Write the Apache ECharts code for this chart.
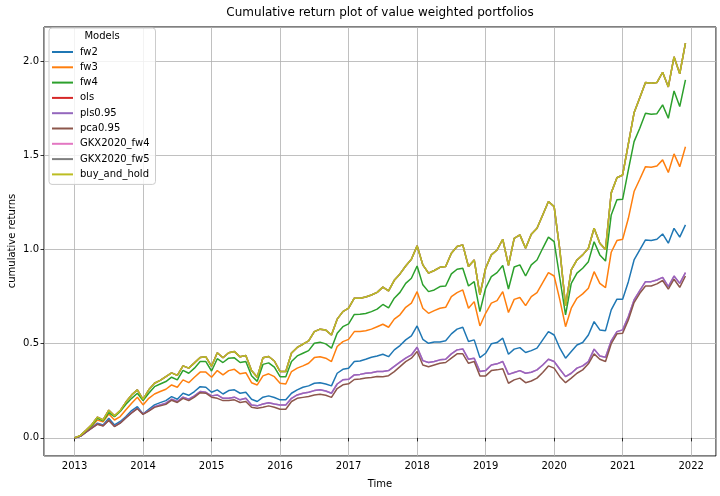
<!DOCTYPE html>
<html>
<head>
<meta charset="utf-8">
<script src="https://cdn.jsdelivr.net/npm/echarts@6/dist/echarts.min.js"></script>
<style>html,body{margin:0;padding:0;background:#fff;}#c{width:720px;height:496px;}</style>
</head>
<body>
<div id="c"></div>
<script>
// Monthly observation dates: 2013-01 .. 2021-12
const dates = [];
for (let y = 2013; y <= 2021; y++) for (let m = 1; m <= 12; m++) dates.push(y + '-' + String(m).padStart(2, '0'));

const xTicks = ['2013','2014','2015','2016','2017','2018','2019','2020','2021','2022'];
const yTicks = ['0.0','0.5','1.0','1.5','2.0'];

const fw2 = [0,0.008,0.03,0.055,0.078,0.069,0.104,0.069,0.087,0.113,0.145,0.166,0.127,0.152,0.175,0.187,0.198,0.219,0.205,0.237,0.226,0.246,0.272,0.269,0.242,0.255,0.233,0.251,0.255,0.237,0.242,0.205,0.193,0.216,0.223,0.214,0.202,0.202,0.237,0.255,0.269,0.276,0.29,0.293,0.286,0.276,0.343,0.364,0.37,0.405,0.408,0.417,0.428,0.435,0.444,0.431,0.467,0.49,0.52,0.541,0.594,0.523,0.502,0.509,0.509,0.516,0.552,0.577,0.587,0.511,0.52,0.426,0.449,0.499,0.506,0.529,0.444,0.471,0.479,0.453,0.463,0.476,0.52,0.564,0.546,0.476,0.423,0.458,0.493,0.506,0.546,0.617,0.573,0.569,0.679,0.736,0.736,0.829,0.944,0.997,1.05,1.047,1.054,1.082,1.033,1.112,1.065,1.13];
const fw3 = [0,0.01,0.035,0.062,0.095,0.085,0.127,0.095,0.113,0.149,0.184,0.216,0.175,0.21,0.233,0.246,0.258,0.281,0.269,0.308,0.293,0.322,0.349,0.349,0.322,0.357,0.334,0.357,0.364,0.34,0.346,0.293,0.281,0.329,0.34,0.325,0.29,0.286,0.352,0.37,0.382,0.396,0.426,0.431,0.423,0.405,0.485,0.511,0.523,0.564,0.564,0.568,0.577,0.59,0.603,0.587,0.63,0.653,0.693,0.715,0.776,0.688,0.661,0.675,0.688,0.693,0.75,0.771,0.785,0.688,0.723,0.594,0.661,0.715,0.728,0.776,0.665,0.735,0.745,0.702,0.75,0.771,0.824,0.877,0.859,0.732,0.59,0.688,0.741,0.764,0.794,0.882,0.82,0.797,0.985,1.047,1.054,1.165,1.307,1.372,1.439,1.436,1.443,1.475,1.408,1.507,1.439,1.545];
const fw4 = [0,0.011,0.038,0.066,0.104,0.09,0.134,0.113,0.14,0.179,0.21,0.237,0.198,0.237,0.272,0.286,0.299,0.322,0.308,0.358,0.343,0.37,0.405,0.405,0.355,0.42,0.4,0.423,0.425,0.4,0.405,0.33,0.3,0.39,0.398,0.375,0.325,0.325,0.405,0.435,0.449,0.463,0.502,0.508,0.499,0.476,0.555,0.59,0.605,0.655,0.656,0.66,0.67,0.683,0.708,0.69,0.741,0.772,0.82,0.847,0.912,0.812,0.776,0.785,0.803,0.806,0.87,0.895,0.9,0.806,0.829,0.67,0.794,0.856,0.877,0.915,0.79,0.907,0.918,0.859,0.918,0.944,1.006,1.065,1.041,0.847,0.653,0.82,0.874,0.9,0.935,1.041,0.971,0.938,1.183,1.263,1.266,1.422,1.572,1.643,1.722,1.717,1.72,1.767,1.696,1.841,1.758,1.899];
const buyAndHold = [0,0.012,0.04,0.07,0.11,0.095,0.147,0.117,0.145,0.19,0.228,0.255,0.205,0.255,0.29,0.305,0.325,0.345,0.332,0.382,0.37,0.398,0.427,0.43,0.38,0.452,0.425,0.452,0.458,0.43,0.437,0.357,0.322,0.425,0.432,0.408,0.352,0.352,0.45,0.48,0.497,0.515,0.564,0.577,0.572,0.546,0.63,0.67,0.688,0.741,0.741,0.748,0.758,0.772,0.8,0.78,0.836,0.87,0.912,0.948,1.019,0.918,0.874,0.888,0.905,0.909,0.98,1.015,1.024,0.909,0.944,0.759,0.9,0.971,0.997,1.054,0.915,1.059,1.077,1.006,1.08,1.112,1.183,1.254,1.227,0.997,0.7,0.891,0.944,0.971,1.006,1.112,1.033,1.0,1.3,1.38,1.395,1.56,1.725,1.805,1.885,1.882,1.885,1.94,1.862,2.022,1.932,2.095];
// ols and GKX2020_fw5 are drawn underneath buy_and_hold and are indistinguishable from it
const ols = buyAndHold.slice();
const gkxFw5 = buyAndHold.slice();
const pls095 = [0,0.008,0.03,0.052,0.074,0.065,0.095,0.062,0.08,0.108,0.134,0.157,0.127,0.145,0.166,0.175,0.184,0.205,0.193,0.216,0.205,0.223,0.246,0.242,0.223,0.228,0.21,0.21,0.216,0.202,0.21,0.175,0.17,0.18,0.187,0.18,0.175,0.175,0.21,0.228,0.237,0.242,0.251,0.255,0.249,0.237,0.286,0.308,0.311,0.334,0.337,0.343,0.346,0.352,0.352,0.357,0.38,0.402,0.423,0.44,0.481,0.41,0.4,0.405,0.414,0.417,0.446,0.467,0.472,0.417,0.423,0.352,0.357,0.387,0.393,0.405,0.337,0.347,0.357,0.343,0.348,0.361,0.387,0.417,0.405,0.364,0.325,0.343,0.37,0.382,0.405,0.471,0.435,0.428,0.515,0.564,0.573,0.644,0.732,0.781,0.829,0.829,0.838,0.852,0.803,0.859,0.82,0.877];
const gkxFw4 = pls095.slice();
const pca095 = [0,0.008,0.03,0.052,0.072,0.063,0.093,0.06,0.078,0.106,0.132,0.155,0.125,0.142,0.162,0.17,0.178,0.2,0.188,0.21,0.198,0.216,0.24,0.237,0.216,0.21,0.198,0.198,0.202,0.188,0.193,0.163,0.157,0.163,0.17,0.163,0.152,0.152,0.193,0.21,0.215,0.22,0.228,0.232,0.226,0.215,0.262,0.282,0.287,0.31,0.312,0.318,0.32,0.326,0.325,0.33,0.352,0.378,0.405,0.423,0.458,0.387,0.378,0.387,0.396,0.4,0.423,0.446,0.446,0.396,0.405,0.329,0.329,0.357,0.361,0.367,0.29,0.308,0.317,0.293,0.302,0.317,0.347,0.382,0.37,0.325,0.293,0.317,0.343,0.361,0.393,0.446,0.417,0.405,0.5,0.552,0.555,0.626,0.718,0.767,0.806,0.806,0.817,0.835,0.789,0.842,0.799,0.859];

const seriesDefs = [
  ['fw2', fw2, '#1f77b4', 2],
  ['fw3', fw3, '#ff7f0e', 2],
  ['fw4', fw4, '#2ca02c', 2],
  ['ols', ols, '#d62728', 1],
  ['pls0.95', pls095, '#9467bd', 2],
  ['pca0.95', pca095, '#8c564b', 2],
  ['GKX2020_fw4', gkxFw4, '#e377c2', 1],
  ['GKX2020_fw5', gkxFw5, '#7f7f7f', 1],
  ['buy_and_hold', buyAndHold, '#bcbd22', 3]
];

function toYear(d) { const p = d.split('-'); return +p[0] + (+p[1] - 1) / 12; }

const xMinData = toYear(dates[0]), xMaxData = toYear(dates[dates.length - 1]);
const xPad = (xMaxData - xMinData) * 0.05;

const font = 'DejaVu Sans';
const chart = echarts.init(document.getElementById('c'), null, {renderer: 'canvas'});
chart.setOption({
  animation: false,
  backgroundColor: '#fff',
  grid: {left: 44, right: 4, top: 27, bottom: 40, show: true, borderColor: '#000', borderWidth: 1, backgroundColor: 'transparent'},
  xAxis: {
    type: 'value', min: xMinData - xPad, max: xMaxData + xPad, splitNumber: 10,
    axisLine: {show: false},
    axisTick: {show: true, inside: false, length: 3.5, lineStyle: {color: '#000', width: 0.8}},
    axisLabel: {showMinLabel: false, showMaxLabel: false, color: '#000', fontSize: 10, fontFamily: font, margin: 5,
      formatter: v => { const s = String(Math.round(v)); return (Math.abs(v - Math.round(v)) < 1e-6 && xTicks.includes(s)) ? s : ''; }},
    splitLine: {show: true, lineStyle: {color: '#b0b0b0', width: 0.8}}
  },
  yAxis: {
    type: 'value', min: -0.096, max: 2.18, splitNumber: 5,
    axisLine: {show: false},
    axisTick: {show: true, inside: false, length: 3.5, lineStyle: {color: '#000', width: 0.8}},
    axisLabel: {showMinLabel: false, showMaxLabel: false, color: '#000', fontSize: 10, fontFamily: font, margin: 5,
      formatter: v => { const s = v.toFixed(1); return yTicks.includes(s) && Math.abs(v * 2 - Math.round(v * 2)) < 1e-6 ? s : ''; }},
    splitLine: {show: true, lineStyle: {color: '#b0b0b0', width: 0.8}}
  },
  legend: {
    orient: 'vertical', left: 49, top: 28,
    padding: [18, 6, 4, 3],
    backgroundColor: 'rgba(255,255,255,0.8)', borderColor: '#cccccc', borderWidth: 1, borderRadius: 3,
    itemWidth: 21, itemHeight: 2, itemGap: 3.3, icon: 'rect',
    textStyle: {color: '#000', fontSize: 10, fontFamily: font, lineHeight: 12, padding: [0, 0, 0, 2]},
    data: seriesDefs.map(s => s[0])
  },
  graphic: [
    {type: 'text', x: 380, y: 13, style: {text: 'Cumulative return plot of value weighted portfolios', fill: '#000', font: '12px "DejaVu Sans"', textAlign: 'center', textVerticalAlign: 'middle'}, z: 100},
    {type: 'text', x: 102, y: 36, style: {text: 'Models', fill: '#000', font: '10px "DejaVu Sans"', textAlign: 'center', textVerticalAlign: 'middle'}, z: 100},
    {type: 'text', x: 380, y: 484, style: {text: 'Time', fill: '#000', font: '10px "DejaVu Sans"', textAlign: 'center', textVerticalAlign: 'middle'}, z: 100},
    {type: 'text', x: 12, y: 241, rotation: Math.PI / 2, style: {text: 'cumulative returns', fill: '#000', font: '10px "DejaVu Sans"', textAlign: 'center', textVerticalAlign: 'middle'}, z: 100}
  ],
  series: seriesDefs.map(s => ({
    name: s[0], type: 'line', showSymbol: false, symbol: 'none', z: s[3],
    color: s[2], lineStyle: {color: s[2], width: 1.5}, itemStyle: {color: s[2]},
    data: dates.map((d, i) => [toYear(d), s[1][i]])
  }))
});
</script>
</body>
</html>
